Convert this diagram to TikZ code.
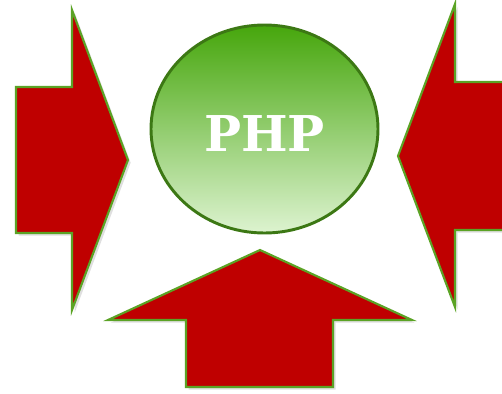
\documentclass[tikz,border=0pt]{standalone}
\usepackage{fontspec}
\newfontfamily\slabfont{DejaVu Serif}
\usetikzlibrary{shadows,shapes.geometric}
\definecolor{arrowred}{HTML}{BF0000}
\definecolor{arrowedge}{HTML}{5BA325}
\definecolor{balltop}{HTML}{46A60C}
\definecolor{ballbottom}{HTML}{DDF3D0}
\definecolor{balledge}{HTML}{3C7814}
\begin{document}
\begin{tikzpicture}[x=0.75pt,y=-0.75pt,
    bigarrow/.style={fill=arrowred, draw=arrowedge, line width=1.6pt, line join=miter,
        drop shadow={shadow xshift=2pt, shadow yshift=-2pt, opacity=0.25}}]
    \useasboundingbox (0,0) rectangle (502,393);
    % left arrow
    \filldraw[bigarrow] (16,87) -- (72,87) -- (72,10) -- (128,160) -- (72,310) -- (72,233) -- (16,233) -- cycle;
    % right arrow
    \filldraw[bigarrow] (503,82) -- (455,82) -- (455,4) -- (398,156) -- (455,307) -- (455,230) -- (503,230);
    % bottom arrow
    \filldraw[bigarrow] (186,387) -- (186,320) -- (108,320) -- (260,250) -- (412,320) -- (333,320) -- (333,387) -- cycle;
    % ball
    \node[ellipse, minimum width=227*0.75pt, minimum height=208*0.75pt, inner sep=0pt,
        draw=balledge, line width=2.2pt, top color=balltop, bottom color=ballbottom] (ball) at (264.5,129) {};
    \node[text=white, font=\slabfont\bfseries\fontsize{37}{42}\selectfont] (balltext) at ([yshift=-3.5pt]ball.center) {PHP};
\end{tikzpicture}
\end{document}
